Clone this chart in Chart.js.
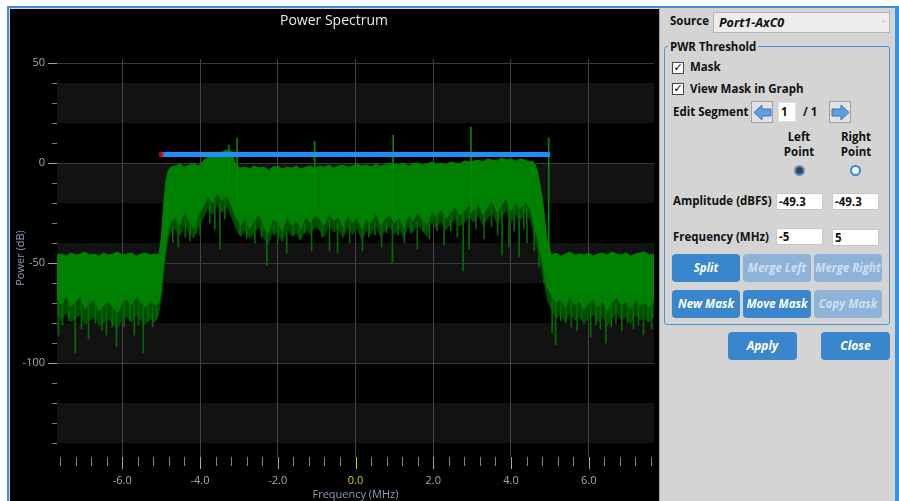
<!DOCTYPE html>
<html>
<head>
<meta charset="utf-8">
<title>Power Spectrum</title>
<script src="https://cdn.jsdelivr.net/npm/chart.js@4.4.1/dist/chart.umd.min.js"></script>
<style>
html, body { margin: 0; padding: 0; }
body { width: 899px; height: 501px; position: relative; overflow: hidden; background: #fff; font-family: "Open Sans", sans-serif; }
#frame { position: absolute; left: 7px; top: 6px; width: 886px; height: 497px; border: 2px solid #3c8fd8; border-right-width: 4px; border-bottom: none; background: #d4d4d4; }
#plot { position: absolute; left: 10px; top: 9px; width: 649px; height: 492px; background: #000; }
#graph { position: absolute; left: 0; top: 1px; }
#sep { position: absolute; left: 659px; top: 8px; width: 1px; height: 493px; background: #a5a5a5; }
.lbl { position: absolute; font-weight: 700; font-size: 11.5px; color: #111; line-height: 16px; white-space: nowrap; }
.ctr { text-align: center; width: 50px; }
.box { position: absolute; box-sizing: border-box; background: #fff; border: 1px solid #c8c8c8; font-weight: 700; font-size: 11.5px; color: #111; padding-left: 2px; white-space: nowrap; }
.cb { position: absolute; box-sizing: border-box; width: 12px; height: 12px; background: #fff; border: 1px solid #444; font-family: "DejaVu Sans", sans-serif; font-size: 11px; line-height: 10px; text-align: center; color: #000; font-weight: 700; }
.arrow { position: absolute; box-sizing: border-box; width: 22px; height: 22px; background: #e2e2e2; border: 1px solid #a0a0a0; }
.arrow svg { position: absolute; left: 1px; top: 2px; }
.radio { position: absolute; box-sizing: border-box; width: 11px; height: 11px; border-radius: 50%; }
.btn { position: absolute; box-sizing: border-box; width: 68px; height: 28px; border-radius: 4px; background: #3a86cd; color: #fff; font-weight: 700; font-style: italic; font-size: 11.5px; text-align: center; line-height: 28px; white-space: nowrap; }
.dis { background: #8db3d9; color: #d0dfee; }
#group { position: absolute; left: 664px; top: 46px; width: 226px; height: 279px; box-sizing: border-box; border: 1px solid #4b93d8; border-radius: 3px; }
#combo { position: absolute; left: 713px; top: 12px; width: 177px; height: 21px; box-sizing: border-box; border: 1px solid #b4b4b4; background: #ececec; font-weight: 700; font-style: italic; font-size: 12.5px; line-height: 19px; padding-left: 5px; color: #111; }
#combo span { position: absolute; right: 4px; top: 0; font-style: normal; font-weight: 400; font-size: 8px; color: #888; }
</style>
</head>
<body>
<div id="frame"></div>
<div id="plot"><canvas id="graph" width="648" height="491"></canvas></div>
<div id="sep"></div>

<div class="lbl" style="left:670px;top:13px;">Source</div>
<div id="combo">Port1-AxC0<span>&#711;</span></div>

<div id="group"></div>
<div class="lbl" style="left:668px;top:39px;background:#d4d4d4;padding:0 2px;">PWR Threshold</div>

<div class="cb" style="left:672px;top:62px;">&#10003;</div>
<div class="lbl" style="left:690px;top:59px;">Mask</div>
<div class="cb" style="left:672px;top:83px;">&#10003;</div>
<div class="lbl" style="left:690px;top:81px;">View Mask in Graph</div>

<div class="lbl" style="left:673px;top:104px;">Edit Segment</div>
<div class="arrow" style="left:751px;top:101px;"><svg width="19" height="17" viewBox="0 0 19 17"><polygon points="1,8.5 9,1 9,5 18,5 18,12 9,12 9,16" fill="#5e9ee2" stroke="#3a74b8" stroke-width="1"/></svg></div>
<div class="box" style="left:778px;top:102px;width:18px;height:20px;line-height:18px;border-color:#e0e0e0;">1</div>
<div class="lbl" style="left:803px;top:104px;">/ 1</div>
<div class="arrow" style="left:829px;top:101px;"><svg width="19" height="17" viewBox="0 0 19 17"><polygon points="18,8.5 10,1 10,5 1,5 1,12 10,12 10,16" fill="#5e9ee2" stroke="#3a74b8" stroke-width="1"/></svg></div>

<div class="lbl ctr" style="left:774px;top:129px;">Left</div>
<div class="lbl ctr" style="left:774px;top:144px;">Point</div>
<div class="lbl ctr" style="left:831px;top:129px;">Right</div>
<div class="lbl ctr" style="left:831px;top:144px;">Point</div>
<div class="radio" style="left:794px;top:165px;background:#2c4560;border:2px solid #7290b0;"></div>
<div class="radio" style="left:850px;top:165px;background:#fff;border:2px solid #2f8ae0;"></div>

<div class="lbl" style="left:673px;top:193px;">Amplitude (dBFS)</div>
<div class="box" style="left:776px;top:193px;width:47px;height:17px;line-height:15px;">-49.3</div>
<div class="box" style="left:832px;top:193px;width:47px;height:17px;line-height:15px;">-49.3</div>

<div class="lbl" style="left:673px;top:229px;">Frequency (MHz)</div>
<div class="box" style="left:776px;top:228px;width:47px;height:17px;line-height:15px;">-5</div>
<div class="box" style="left:832px;top:229px;width:47px;height:17px;line-height:15px;">5</div>

<div class="btn" style="left:672px;top:254px;">Split</div>
<div class="btn dis" style="left:743px;top:254px;">Merge Left</div>
<div class="btn dis" style="left:814px;top:254px;">Merge Right</div>
<div class="btn" style="left:672px;top:290px;">New Mask</div>
<div class="btn" style="left:743px;top:290px;">Move Mask</div>
<div class="btn dis" style="left:814px;top:290px;">Copy Mask</div>

<div class="btn" style="left:728px;top:332px;width:69px;font-size:12px;">Apply</div>
<div class="btn" style="left:821px;top:332px;width:69px;font-size:12px;">Close</div>

<script>
// ------------ spectrum data (MHz / dB) -------------

var freqMHz = [
  -7.68, -7.56, -7.44, -7.32, -7.20, -7.08, -6.96, -6.84, -6.72, -6.60, -6.48,
  -6.36, -6.24, -6.12, -6.00, -5.88, -5.76, -5.64, -5.52, -5.40, -5.28, -5.16,
  -5.06, -5.00, -4.94, -4.88, -4.82, -4.76,
  -4.64, -4.52, -4.40, -4.28, -4.16, -4.04,
  -3.92, -3.80, -3.68, -3.56, -3.44, -3.32, -3.20,
  -3.08, -2.96, -2.84, -2.72, -2.60, -2.48, -2.36, -2.24, -2.12, -2.00, -1.88,
  -1.76, -1.64, -1.52, -1.40, -1.28, -1.16, -1.04,
  -0.92, -0.80, -0.68, -0.56, -0.44, -0.32, -0.20, -0.08, 0.04, 0.16, 0.28,
  0.40, 0.52, 0.64, 0.76, 0.88,
  1.00, 1.12, 1.24, 1.36, 1.48, 1.60, 1.72, 1.84, 1.96, 2.08, 2.20, 2.32,
  2.44, 2.56, 2.68, 2.80, 2.92,
  3.04, 3.16, 3.28, 3.40, 3.52, 3.64, 3.76, 3.88, 4.00, 4.12, 4.24, 4.36, 4.48,
  4.56, 4.62, 4.68, 4.74, 4.80, 4.86, 4.92,
  5.04, 5.16, 5.28, 5.40, 5.52, 5.64, 5.76, 5.88, 6.00, 6.12, 6.24, 6.36,
  6.48, 6.60, 6.72, 6.84, 6.96, 7.08, 7.20, 7.32, 7.44, 7.56, 7.68
];

// upper edge of the trace
var topLevel = [
  -46, -45.5, -46.5, -45, -46, -45.5, -44.5, -46, -45.5, -46.5, -45,
  -46, -45.5, -44.5, -46, -45.5, -45, -46.5, -45.5, -45, -46, -45.5,
  -46, -38, -22, -9, -4, -2,
  -1.5, -0.5, -2, -1, -0.5, -1.5,
  1, 3, 4, 5, 5.5, 6.5, 6,
  -1, -2.5, -2, -3, -1.5, -2.5, -2, -3.5, -2, -1.5, -3,
  -2, -2.5, -1.5, -3, -2, -1.5, -2.5,
  -1.5, -2, -1, -2.5, -1.5, -1, -2, -1.5, -0.5, -1.5, -1,
  -2, -0.5, -1.5, -1, -0.5,
  -0.5, -1, 0, -1.5, -0.5, 0, -1, -0.5, 0.5, -0.5, 0, -1,
  0.5, 0, -0.5, 1, 0.5,
  1, 1.5, 0.5, 2, 1.5, 1, 2.5, 1.5, 2, 1, 2, 1.5, 0.5,
  1, -1, -4, -10, -17, -26, -38,
  -46, -45, -46.5, -45.5, -44.5, -46, -45.5, -46, -45, -46.5, -45.5, -45,
  -46, -44.5, -45.5, -46, -45, -46.5, -45.5, -45, -44.5, -46, -45.5
];

// lower edge of the solid part of the trace
var denseLevel = [
  -68, -71, -66, -72, -69, -67, -73, -70, -68, -74, -71,
  -69, -72, -75, -70, -68, -71, -67, -70, -72, -69, -71,
  -70, -64, -52, -42, -34, -30,
  -27, -31, -25, -29, -33, -26,
  -22, -17, -20, -15, -19, -16, -21,
  -27, -31, -28, -33, -29, -26, -32, -35, -28, -30, -34,
  -27, -31, -29, -33, -27, -30, -26,
  -28, -31, -25, -29, -27, -32, -26, -30, -27, -33, -28,
  -30, -25, -31, -28, -26,
  -30, -27, -32, -26, -29, -25, -28, -31, -24, -27, -23, -28,
  -25, -22, -26, -24, -21,
  -24, -20, -26, -22, -19, -25, -21, -18, -24, -20, -23, -19, -22,
  -28, -33, -37, -43, -49, -55, -62,
  -66, -70, -68, -72, -67, -71, -69, -73, -70, -68, -72, -69,
  -74, -70, -67, -71, -69, -73, -68, -71, -70, -72, -69
];

// lower edge of the thinner, darker noise haze
var sparseLevel = [
  -76, -79, -75, -80, -78, -76, -81, -79, -77, -82, -80,
  -78, -81, -83, -79, -77, -80, -76, -79, -81, -78, -80,
  -76, -70, -58, -47, -39, -35,
  -33, -37, -31, -35, -38, -32,
  -28, -23, -26, -21, -25, -22, -27,
  -33, -37, -34, -38, -35, -32, -38, -41, -34, -36, -40,
  -33, -37, -35, -39, -33, -36, -32,
  -34, -37, -31, -35, -33, -38, -32, -36, -33, -39, -34,
  -36, -31, -37, -34, -32,
  -36, -33, -38, -32, -35, -31, -34, -37, -30, -33, -29, -34,
  -31, -28, -32, -30, -27,
  -30, -26, -32, -28, -25, -31, -27, -24, -30, -26, -29, -25, -28,
  -34, -39, -43, -49, -55, -61, -68,
  -74, -78, -76, -80, -75, -79, -77, -81, -78, -76, -80, -77,
  -82, -78, -75, -79, -77, -81, -76, -79, -78, -80, -77
];

// downward noise dips
var dipFreq = [
  -7.64, -7.54, -7.38, -7.21, -7.05, -6.87, -6.70, -6.52, -6.41, -6.26, -6.15,
  -5.95, -5.80, -5.69, -5.58, -5.46, -5.33, -5.22, -5.12,
  -4.70, -4.56, -4.38, -4.26, -4.10, -4.00, -3.75, -3.62, -3.49, -3.36,
  -2.97, -2.80, -2.59, -2.42, -2.28, -2.10, -2.00, -1.88, -1.77, -1.60, -1.44,
  -1.30, -1.13, -0.86, -0.67, -0.46, -0.30, -0.15, 0.18, 0.34, 0.50, 0.67,
  0.80, 0.95, 1.10, 1.26, 1.42, 1.59, 1.75, 1.90, 2.10, 2.28, 2.45, 2.62,
  2.77, 2.92, 3.10, 3.31, 3.50, 3.66, 3.77, 3.95, 4.08, 4.21, 4.33, 4.41,
  4.60, 4.72, 4.85,
  5.06, 5.15, 5.28, 5.41, 5.55, 5.70, 5.83, 6.05, 6.18, 6.30, 6.44, 6.58,
  6.70, 6.85, 7.00, 7.15, 7.28, 7.41, 7.52, 7.62
];
var dipUpper = [
  -68, -69, -68, -70, -68, -70, -69, -71, -70, -70, -72,
  -70, -69, -70, -70, -71, -70, -70, -68,
  -32, -30, -28, -30, -30, -28, -20, -19, -20, -18,
  -30, -30, -30, -31, -32, -30, -31, -31, -32, -30, -31,
  -30, -30, -30, -28, -30, -28, -28, -28, -29, -29, -28,
  -29, -30, -28, -27, -28, -29, -26, -27, -27, -25, -26, -25,
  -25, -24, -22, -22, -21, -22, -22, -21, -20, -21, -20, -22,
  -32, -42, -53,
  -64, -68, -68, -70, -69, -70, -70, -71, -70, -71, -70, -71,
  -70, -71, -70, -70, -70, -71, -70, -70
];
var dipLower = [
  -86, -81, -79, -95, -83, -88, -80, -84, -86, -82, -92,
  -82, -79, -86, -81, -95, -79, -82, -78,
  -40, -42, -37, -39, -35, -36, -30, -33, -43, -28,
  -36, -38, -40, -37, -51, -36, -40, -37, -45, -36, -38,
  -35, -44, -37, -44, -45, -35, -40, -44, -37, -36, -42,
  -35, -50, -36, -40, -35, -43, -34, -38, -34, -41, -34, -37,
  -54, -43, -33, -38, -32, -36, -46, -42, -34, -47, -33, -40,
  -44, -52, -60,
  -85, -91, -79, -80, -82, -84, -79, -87, -81, -83, -90, -82,
  -80, -84, -80, -83, -81, -86, -79, -83
];

// narrow spurs
var spurFreq = [-3.26, -3.05, -1.05, 0.97, 2.97, 4.97];
var spurLower = [-10, -20, -25, -25, -25, -48];
var spurUpper = [9, 12.5, 11, 14, 18, 12.5];

// mask segment
var maskFreq = [-5, 5];
var maskLevel = [4.3, 4.3];

// tick labels
var xTickVals = [-6, -4, -2, 0, 2, 4, 6];
var yTickVals = [50, 0, -50, -100];

// alternating bands of the plot background (dB)
var bandEdges = [[40, 20], [0, -20], [-40, -60], [-80, -100], [-120, -140]];

// ------------ plugin: background bands + tick marks -------------

var scopePlugin = {
  id: "scope",
  beforeDraw: function (chart) {
    var ctx = chart.ctx;
    var a = chart.chartArea;
    var y = chart.scales.y;
    ctx.save();
    ctx.fillStyle = "#000";
    ctx.fillRect(0, 0, chart.width, chart.height);
    ctx.fillStyle = "#121212";
    for (var b = 0; b < bandEdges.length; b++) {
      var y1 = y.getPixelForValue(bandEdges[b][0]);
      var y2 = y.getPixelForValue(bandEdges[b][1]);
      ctx.fillRect(a.left, y1, a.right - a.left, y2 - y1);
    }
    ctx.restore();
  },
  afterDraw: function (chart) {
    var ctx = chart.ctx;
    var a = chart.chartArea;
    var x = chart.scales.x;
    var y = chart.scales.y;
    ctx.save();
    ctx.lineWidth = 1;
    // y ticks every 10 dB
    for (var v = -140; v <= 50; v += 10) {
      var major = v % 50 === 0;
      var py = Math.round(y.getPixelForValue(v)) + 0.5;
      ctx.strokeStyle = major ? "#a0a0a0" : "#808080";
      ctx.beginPath();
      ctx.moveTo(a.left - (major ? 9 : 5), py);
      ctx.lineTo(a.left, py);
      ctx.stroke();
    }
    // x ticks every 0.4 MHz
    for (var i = -19; i <= 19; i++) {
      var f = i * 0.4;
      var maj = i % 5 === 0;
      var px = Math.round(x.getPixelForValue(f)) + 0.5;
      ctx.strokeStyle = i === 0 ? "#d2d200" : maj ? "#a8a8a8" : "#858585";
      ctx.beginPath();
      ctx.moveTo(px, a.bottom);
      ctx.lineTo(px, a.bottom + (maj ? 12 : 9));
      ctx.stroke();
    }
    ctx.restore();
  },
};

// ------------ graph -------------

Chart.defaults.font.family = "'Open Sans', sans-serif";

var topPts = freqMHz.map(function (f, i) { return { x: f, y: topLevel[i] }; });
var densePts = freqMHz.map(function (f, i) { return { x: f, y: denseLevel[i] }; });
var sparsePts = freqMHz.map(function (f, i) { return { x: f, y: sparseLevel[i] }; });
var dipBars = dipFreq.map(function (f, i) { return { x: f, y: [dipUpper[i], dipLower[i]] }; });
var spurBars = spurFreq.map(function (f, i) { return { x: f, y: [spurLower[i], spurUpper[i]] }; });
var maskPts = maskFreq.map(function (f, i) { return { x: f, y: maskLevel[i] }; });

var ctx = document.getElementById("graph");

var spectrum = new Chart(ctx, {
  type: "line",
  data: {
    datasets: [
      {
        label: "top",
        data: topPts,
        borderColor: "#008000",
        borderWidth: 1,
        pointRadius: 0,
        fill: false,
        tension: 0,
        order: 2,
      },
      {
        label: "dense",
        data: densePts,
        borderColor: "#008000",
        backgroundColor: "#008000",
        borderWidth: 1,
        pointRadius: 0,
        fill: "-1",
        tension: 0,
        order: 2,
      },
      {
        label: "sparse",
        data: sparsePts,
        borderColor: "rgba(0,0,0,0)",
        backgroundColor: "#004c00",
        borderWidth: 0,
        pointRadius: 0,
        fill: "-1",
        tension: 0,
        order: 4,
      },
      {
        type: "bar",
        label: "dips",
        data: dipBars,
        backgroundColor: "#006e00",
        barThickness: 1,
        grouped: false,
        order: 3,
      },
      {
        type: "bar",
        label: "spurs",
        data: spurBars,
        backgroundColor: "#008a00",
        barThickness: 1,
        grouped: false,
        order: 1,
      },
      {
        label: "mask",
        data: maskPts,
        borderColor: "#1f8fff",
        borderWidth: 5,
        borderCapStyle: "butt",
        pointRadius: 0,
        fill: false,
        order: 0,
      },
      {
        label: "maskPoint",
        data: [maskPts[0]],
        showLine: false,
        pointStyle: "rect",
        pointRadius: 3,
        pointBorderWidth: 0,
        pointBackgroundColor: "#e00000",
        order: -1,
      },
    ],
  },
  options: {
    responsive: false,
    animation: false,
    layout: { padding: { left: 0, right: 0, top: 0, bottom: 0 } },
    plugins: {
      legend: { display: false },
      tooltip: { enabled: false },
      title: {
        display: true,
        text: "Power Spectrum",
        color: "#ececec",
        font: { size: 14, weight: "normal" },
        padding: { top: 3, bottom: 29.2 },
      },
    },
    scales: {
      x: {
        type: "linear",
        min: -7.68,
        max: 7.68,
        offset: false,
        afterBuildTicks: function (s) { s.ticks = xTickVals.map(function (v) { return { value: v }; }); },
        afterFit: function (s) { s.height = 44; },
        grid: { color: "#444444", drawTicks: false, offset: false },
        border: { display: false },
        ticks: {
          padding: 17,
          autoSkip: false,
          maxRotation: 0,
          font: { size: 11 },
          color: function (c) { return c.tick && c.tick.value === 0 ? "#d2d200" : "#a3a9b6"; },
          callback: function (v) { return v.toFixed(1); },
        },
        title: {
          display: true,
          text: "Frequency (MHz)",
          color: "#8c9cb8",
          font: { size: 11 },
          padding: { top: 0, bottom: 0 },
        },
      },
      y: {
        min: -147,
        max: 52,
        afterBuildTicks: function (s) { s.ticks = yTickVals.map(function (v) { return { value: v }; }); },
        afterFit: function (s) { s.width = 47; },
        grid: { color: "#3a3a3a", drawTicks: false },
        border: { display: false },
        ticks: { padding: 12, font: { size: 11 }, color: "#a8a8a8" },
        title: {
          display: true,
          text: "Power (dB)",
          color: "#8c9cb8",
          font: { size: 11 },
          padding: { top: 4, bottom: 0 },
        },
      },
    },
  },
  plugins: [scopePlugin],
});
</script>
</body>
</html>
